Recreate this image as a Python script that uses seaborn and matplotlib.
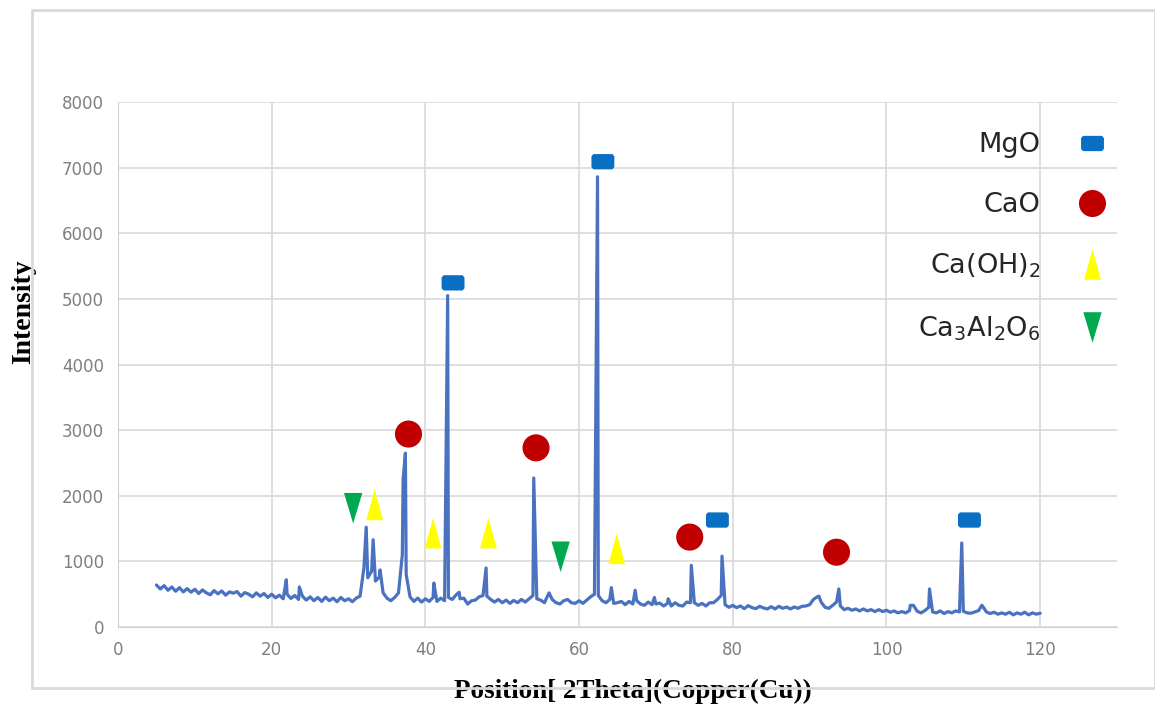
import numpy as np
import pandas as pd
import seaborn as sns
import matplotlib.pyplot as plt
from matplotlib.path import Path
from matplotlib.lines import Line2D
from matplotlib.patches import Rectangle

# fondo del difractograma, leido cada 0.5 grados (5 -> 120)
fondo_x = np.arange(5, 120.5, 0.5)
fondo_y = [
    640, 580, 630, 560, 610, 545, 600, 535, 585, 530,
    575, 510, 565, 520, 490, 555, 505, 550, 485, 535,
    515, 540, 470, 525, 500, 460, 520, 470, 510, 450,
    500, 445, 485, 430, 500, 435, 480, 420, 470, 410,
    460, 400, 450, 390, 455, 400, 440, 385, 450, 400,
    430, 385, 440, 470, 900, 750, 850, 700, 760, 520,
    440, 400, 450, 520, 1100, 800, 460, 390, 440, 380,
    430, 390, 450, 390, 440, 400, 450, 420, 490, 430,
    440, 350, 400, 410, 460, 480, 470, 420, 380, 420,
    370, 410, 360, 405, 370, 420, 380, 430, 480, 430,
    410, 370, 500, 420, 370, 350, 400, 420, 370, 360,
    400, 360, 410, 460, 500, 480, 400, 370, 420, 360,
    370, 390, 340, 390, 350, 400, 350, 330, 380, 340,
    350, 365, 320, 360, 320, 370, 330, 320, 380, 370,
    370, 330, 360, 320, 370, 370, 420, 480, 340, 300,
    330, 295, 320, 280, 325, 295, 280, 315, 290, 275,
    310, 275, 315, 285, 305, 275, 305, 285, 315, 320,
    340, 420, 460, 380, 300, 285, 330, 380, 320, 265,
    285, 255, 275, 245, 275, 245, 265, 235, 265, 235,
    255, 225, 245, 215, 235, 215, 250, 330, 240, 215,
    250, 300, 230, 215, 245, 205, 235, 215, 245, 230,
    240, 215, 210, 230, 250, 320, 230, 205, 225, 195,
    215, 195, 225, 185, 215, 195, 225, 185, 215, 195,
    210,
]

# picos
picos_x = [21.9, 23.6, 32.3, 33.2, 34.1, 37.1, 37.4, 41.1, 42.9, 44.4, 47.9,
           54.1, 56.1, 62.4, 64.2, 67.3, 69.8, 71.6, 74.6, 78.6, 91.2, 93.8,
           103.1, 105.6, 109.8, 112.4]
picos_y = [720, 610, 1520, 1330, 870, 2250, 2650, 670, 5050, 530, 900,
           2270, 520, 6860, 600, 560, 450, 430, 940, 1080, 470, 580,
           330, 580, 1280, 330]

# marcadores de fases
fases = ["MgO", "CaO", "Ca(OH)$_2$", "Ca$_3$Al$_2$O$_6$"]
mgo_x = [43.6, 63.1, 78.0, 110.8]
mgo_y = [5244, 7090, 1630, 1630]
cao_x = [37.8, 54.4, 74.4, 93.5]
cao_y = [2940, 2730, 1370, 1140]
caoh_x = [33.4, 41.0, 48.2, 64.9]
caoh_y = [1860, 1430, 1430, 1190]
c3a_x = [30.6, 57.6]
c3a_y = [1810, 1070]

df = pd.DataFrame({"x": list(fondo_x) + picos_x, "y": fondo_y + picos_y})
df = df.sort_values("x")

sns.set_style("white")

cuadrado = Path([(-1.5, -0.7), (-1.25, -1), (1.25, -1), (1.5, -0.7), (1.5, 0.7),
                 (1.25, 1), (-1.25, 1), (-1.5, 0.7), (-1.5, -0.7)])
tri_up = Path([(0, 1), (-0.55, -1), (0.55, -1), (0, 1)])
tri_down = Path([(0, -1), (-0.6, 1), (0.6, 1), (0, -1)])

fig = plt.figure(figsize=(11.55, 7.06), dpi=100)
ax = fig.add_axes([118 / 1155, 1 - 627 / 706, (1117 - 118) / 1155, (627 - 102) / 706])

sns.lineplot(data=df, x="x", y="y", ax=ax, color="#4a72c0", linewidth=2.3,
             estimator=None, errorbar=None, zorder=3)

estilos = [
    (mgo_x, mgo_y, cuadrado, "#0a6fc2", 16.5),
    (cao_x, cao_y, "o", "#c00000", 19.5),
    (caoh_x, caoh_y, tri_up, "#ffff00", 22),
    (c3a_x, c3a_y, tri_down, "#00a850", 22),
]
handles = []
for (xs, ys, m, c, ms), nombre in zip(estilos, fases):
    sns.scatterplot(x=xs, y=ys, ax=ax, marker=m, color=c, s=ms ** 2,
                    edgecolor="none", zorder=4, legend=False)
    handles.append(Line2D([], [], linestyle="none", marker=m, color=c,
                          markersize=ms, markeredgewidth=0))

ax.set_xlim(0, 130)
ax.set_ylim(0, 8000)
ax.set_xticks(range(0, 121, 20))
ax.set_yticks(range(0, 8001, 1000))
ax.grid(True, color="#d9d9d9", linewidth=1.2)
for lado in ["top", "right"]:
    ax.spines[lado].set_visible(False)
for lado in ["left", "bottom"]:
    ax.spines[lado].set_color("#d0d0d0")
ax.tick_params(length=0, labelsize=12, labelcolor="#7f7f7f", pad=10)

ax.set_xlabel("Position[ 2Theta](Copper(Cu))", fontsize=19.5, fontweight="bold",
              family="Liberation Serif", color="black",
              bbox=dict(facecolor="white", edgecolor="none", pad=2))
ax.xaxis.set_label_coords(0.515, -0.098)
ax.set_ylabel("Intensity", fontsize=20, fontweight="bold",
              family="Liberation Serif", color="black")
ax.yaxis.set_label_coords(-0.082, 0.60)

leg = ax.legend(handles, fases, loc="upper left", bbox_to_anchor=(0.79, 0.963),
                frameon=False, markerfirst=False, fontsize=19.5, labelspacing=1.25,
                handletextpad=1.4, handlelength=1.0, borderaxespad=0)
for t in leg.get_texts():
    t.set_color("#262626")

# marco exterior del grafico
fig.patches.append(Rectangle((32 / 1155, 1 - 688 / 706), 1 - 32 / 1155, (688 - 10) / 706,
                             transform=fig.transFigure, fill=False,
                             edgecolor="#d9d9d9", linewidth=2, zorder=0))

plt.savefig("out.png", dpi=100)
